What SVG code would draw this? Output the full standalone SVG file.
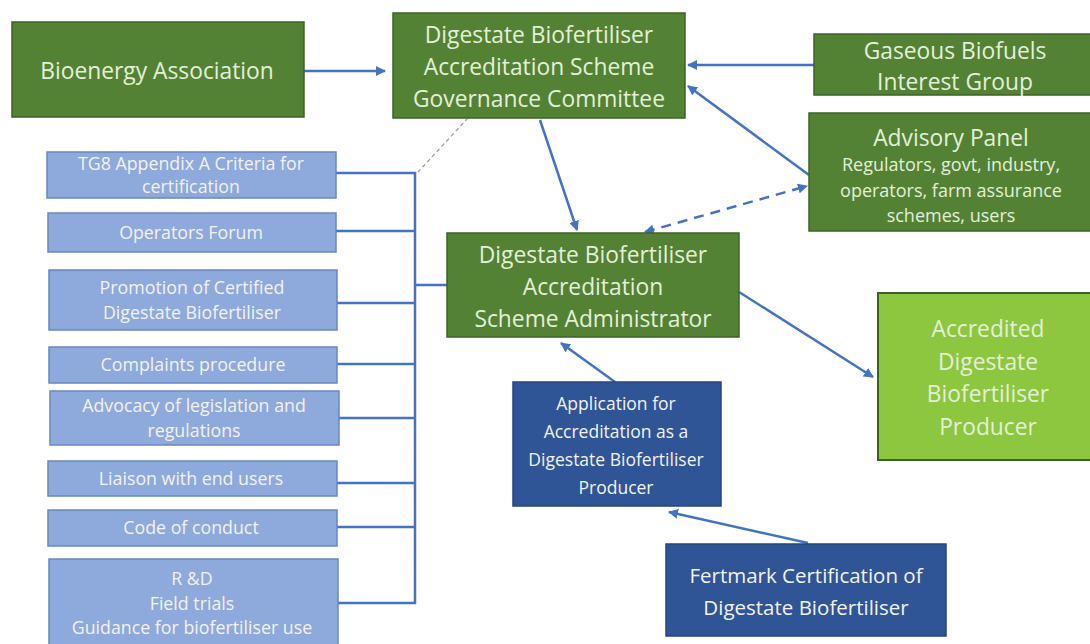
<svg xmlns="http://www.w3.org/2000/svg" width="1090" height="644" viewBox="0 0 1090 644">
<defs>
<marker id="ah" viewBox="0 0 10 10" refX="9" refY="5" markerWidth="4" markerHeight="4" orient="auto-start-reverse"><path d="M0,0 L10,5 L0,10 z" fill="#4472C4"/></marker>
</defs>
<style>
.g{fill:#548235;stroke:#3E6128;stroke-width:1.5}
.lg{fill:#8DC63F;stroke:#3E6128;stroke-width:2}
.db{fill:#2F5597;stroke:#24457c;stroke-width:1.5}
.lb{fill:#8EA9DB;stroke:#6A87C0;stroke-width:1.5}
text{font-family:"Open Sans","Noto Sans",sans-serif;text-anchor:middle;dominant-baseline:central}
.tg{fill:#E2F0D9;font-size:22.8px}
.ts{fill:#E2F0D9;font-size:18px}
.tw{fill:#F2F2F2;font-size:20.5px}
.tw2{fill:#F2F2F2;font-size:17.5px}
.tl{fill:#F2F2F2;font-size:17.8px}
.c{stroke:#4472C4;stroke-width:2.5;fill:none}
</style>
<rect width="1090" height="644" fill="#ffffff"/>
<g id="connectors">
<line class="c" x1="304" y1="71" x2="385" y2="71" marker-end="url(#ah)"/>
<line class="c" x1="814" y1="65" x2="688" y2="65" marker-end="url(#ah)"/>
<line class="c" x1="809" y1="175" x2="688" y2="86" marker-end="url(#ah)"/>
<line class="c" x1="540" y1="120" x2="577" y2="230" marker-end="url(#ah)"/>
<line class="c" x1="645" y1="232" x2="807" y2="186" stroke-dasharray="10,7" marker-start="url(#ah)" marker-end="url(#ah)"/>
<line class="c" x1="739" y1="292" x2="873" y2="377" marker-end="url(#ah)"/>
<line class="c" x1="615" y1="382" x2="561" y2="343" marker-end="url(#ah)"/>
<line class="c" x1="808" y1="543" x2="669" y2="512" marker-end="url(#ah)"/>
<line x1="468" y1="118" x2="418" y2="172" stroke="#999" stroke-width="1.2" stroke-dasharray="4,3"/>
<path class="c" d="M336,173 H415 V603 H336 M336,231 H415 M336,303 H415 M336,364 H415 M336,418 H415 M336,483 H415 M336,527 H415 M415,285 H447"/>
</g>
<g id="bioenergy"><rect class="g" x="12" y="22" width="292" height="95"/><text class="tg" x="157" y="70">Bioenergy Association</text></g>
<g id="governance"><rect class="g" x="393" y="13" width="292" height="105"/><text class="tg" x="539" y="34">Digestate Biofertiliser</text><text class="tg" x="539" y="66">Accreditation Scheme</text><text class="tg" x="539" y="98">Governance Committee</text></g>
<g id="gaseous"><rect class="g" x="814" y="34" width="280" height="61"/><text class="tg" x="955" y="50">Gaseous Biofuels</text><text class="tg" x="955" y="81">Interest Group</text></g>
<g id="advisory"><rect class="g" x="809" y="113" width="285" height="118"/><text class="tg" x="951" y="137">Advisory Panel</text><text class="ts" x="951" y="164">Regulators, govt, industry,</text><text class="ts" x="951" y="190">operators, farm assurance</text><text class="ts" x="951" y="215">schemes, users</text></g>
<g id="administrator"><rect class="g" x="447" y="233" width="292" height="104"/><text class="tg" x="593" y="254">Digestate Biofertiliser</text><text class="tg" x="593" y="286">Accreditation</text><text class="tg" x="593" y="318">Scheme Administrator</text></g>
<g id="accredited"><rect class="lg" x="878" y="293" width="215" height="167"/><text class="tg" x="988" y="328">Accredited</text><text class="tg" x="988" y="361">Digestate</text><text class="tg" x="988" y="393">Biofertiliser</text><text class="tg" x="988" y="426">Producer</text></g>
<g id="application"><rect class="db" x="513" y="382" width="208" height="124"/><text class="tw2" x="616" y="403">Application for</text><text class="tw2" x="616" y="431">Accreditation as a</text><text class="tw2" x="616" y="459">Digestate Biofertiliser</text><text class="tw2" x="616" y="487">Producer</text></g>
<g id="fertmark"><rect class="db" x="666" y="544" width="280" height="92"/><text class="tw" x="806" y="575">Fertmark Certification of</text><text class="tw" x="806" y="607">Digestate Biofertiliser</text></g>
<g id="tg8"><rect class="lb" x="47" y="152" width="289" height="46"/><text class="tl" x="191" y="163">TG8 Appendix A Criteria for</text><text class="tl" x="191" y="186">certification</text></g>
<g id="operators"><rect class="lb" x="48" y="213" width="288" height="39"/><text class="tl" x="191" y="232">Operators Forum</text></g>
<g id="promotion"><rect class="lb" x="49" y="270" width="288" height="60"/><text class="tl" x="192" y="287">Promotion of Certified</text><text class="tl" x="192" y="312">Digestate Biofertiliser</text></g>
<g id="complaints"><rect class="lb" x="49" y="347" width="288" height="36"/><text class="tl" x="193" y="364">Complaints procedure</text></g>
<g id="advocacy"><rect class="lb" x="50" y="391" width="289" height="54"/><text class="tl" x="194" y="405">Advocacy of legislation and</text><text class="tl" x="194" y="430">regulations</text></g>
<g id="liaison"><rect class="lb" x="48" y="461" width="289" height="35"/><text class="tl" x="191" y="478">Liaison with end users</text></g>
<g id="code"><rect class="lb" x="48" y="510" width="289" height="36"/><text class="tl" x="191" y="527">Code of conduct</text></g>
<g id="rd"><rect class="lb" x="49" y="559" width="289" height="90"/><text class="tl" x="192" y="578">R &amp;D</text><text class="tl" x="192" y="603">Field trials</text><text class="tl" x="192" y="627">Guidance for biofertiliser use</text></g>
</svg>
